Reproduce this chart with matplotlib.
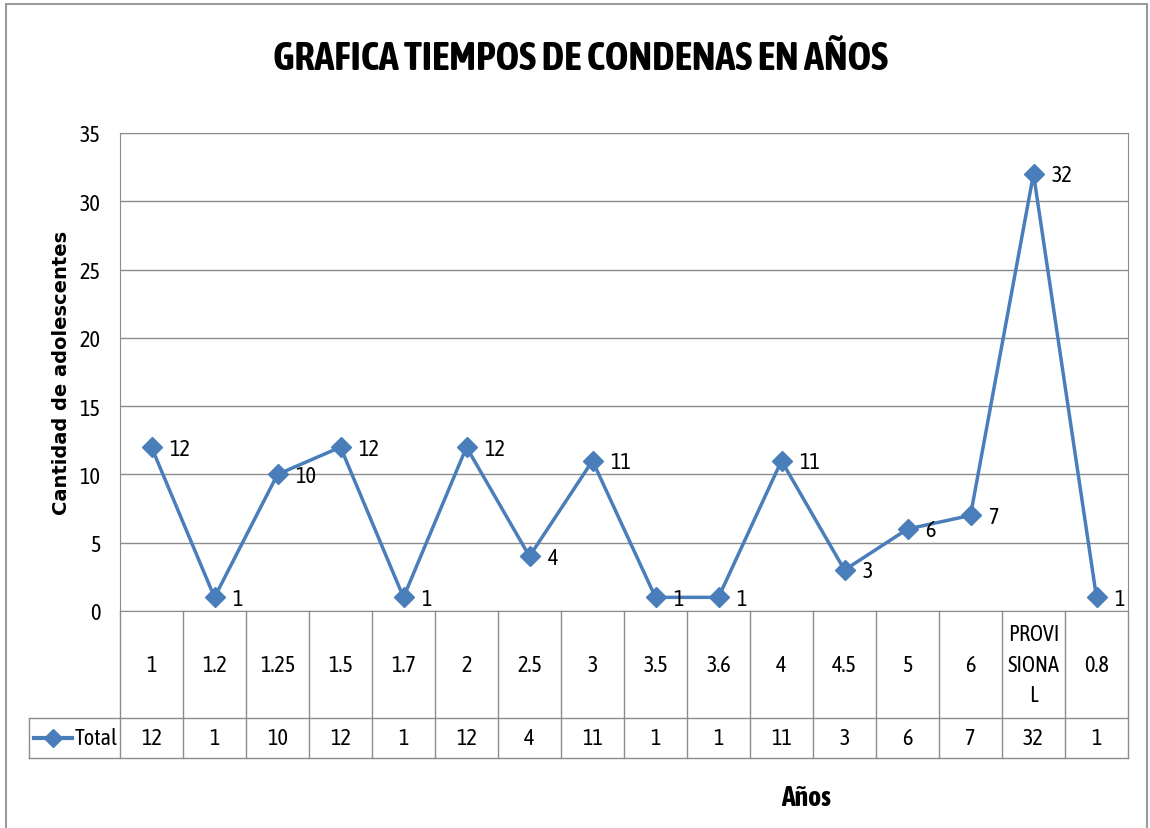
import numpy as np
import matplotlib.pyplot as plt
from matplotlib.patches import Rectangle

plt.rcParams['font.family'] = ['Asap Condensed', 'DejaVu Sans']

categorias = ['1', '1.2', '1.25', '1.5', '1.7', '2', '2.5', '3', '3.5', '3.6',
              '4', '4.5', '5', '6', 'PROVI\nSIONA\nL', '0.8']
total = [12, 1, 10, 12, 1, 12, 4, 11, 1, 1, 11, 3, 6, 7, 32, 1]

azul = '#4a7ebb'
gris = '#8c8c8c'

W, H = 1150, 829
fig = plt.figure(figsize=(W / 100, H / 100), dpi=100)

# marco exterior
fig.patches.append(Rectangle((6 / W, -0.01), (1147 - 6) / W, (829 - 5) / H + 0.01,
                             transform=fig.transFigure, fill=False,
                             edgecolor='#9a9a9a', lw=1.5))

x0, x1, y0, y1 = 120, 1128, 612, 134
ax = fig.add_axes([x0 / W, 1 - y0 / H, (x1 - x0) / W, (y0 - y1) / H])
x = np.arange(len(total))
ax.plot(x, total, color=azul, lw=2.5, marker='D', ms=10, mec=azul, mfc=azul)
for xi, v in zip(x, total):
    ax.annotate(str(v), (xi, v), xytext=(13, -1), textcoords='offset points',
                ha='left', va='center', fontsize=16)
ax.set_xlim(-0.5, len(total) - 0.5)
ax.set_ylim(0, 35)
ax.set_yticks(range(0, 36, 5))
ax.set_xticks([])
ax.tick_params(axis='y', length=0, labelsize=16, pad=14)
ax.grid(axis='y', color=gris, lw=1)
ax.set_axisbelow(True)
for s in ax.spines.values():
    s.set_color(gris)
ax.set_ylabel('Cantidad de adolescentes', family='DejaVu Sans',
              fontweight='bold', fontsize=14, labelpad=6)

# tabla de datos
col = (x1 - x0) / len(total)
leg_left = 29
tab_bottom = 759
tab = fig.add_axes([leg_left / W, 1 - tab_bottom / H, (x1 - leg_left) / W,
                    (tab_bottom - y0) / H])
lx = -0.5 - (x0 - leg_left) / col
xr = len(total) - 0.5
tab.set_xlim(lx, xr)
tab.set_ylim(tab_bottom - y0, 0)
tab.axis('off')
mid = 719 - y0
bot = tab_bottom - y0
kw = dict(color=gris, lw=1, clip_on=False)
for i in range(len(total) + 1):
    tab.plot([i - 0.5, i - 0.5], [0, bot], **kw)
tab.plot([-0.5, xr], [mid, mid], **kw)
tab.plot([lx, xr], [bot, bot], **kw)
tab.plot([lx, -0.5], [mid, mid], **kw)
tab.plot([lx, lx], [mid, bot], **kw)
for i, (c, v) in enumerate(zip(categorias, total)):
    tab.text(i, mid / 2, c, ha='center', va='center', fontsize=16,
             linespacing=1.5)
    tab.text(i, (mid + bot) / 2, str(v), ha='center', va='center', fontsize=16)
tab.plot([lx + 0.08, lx + 0.68], [(mid + bot) / 2] * 2, color=azul, lw=3,
         clip_on=False)
tab.plot([lx + 0.38], [(mid + bot) / 2], color=azul, marker='D', ms=9,
         clip_on=False)
tab.text(lx + 0.72, (mid + bot) / 2, 'Total', ha='left', va='center',
         fontsize=16)

fig.text(581 / W, 1 - 59 / H, 'GRAFICA TIEMPOS DE CONDENAS EN AÑOS',
         ha='center', va='center', fontsize=29, fontweight='bold')
fig.text(806 / W, 1 - 799 / H, 'Años', ha='center', va='center',
         fontsize=20, fontweight='bold')

fig.savefig('out.png', dpi=100)
